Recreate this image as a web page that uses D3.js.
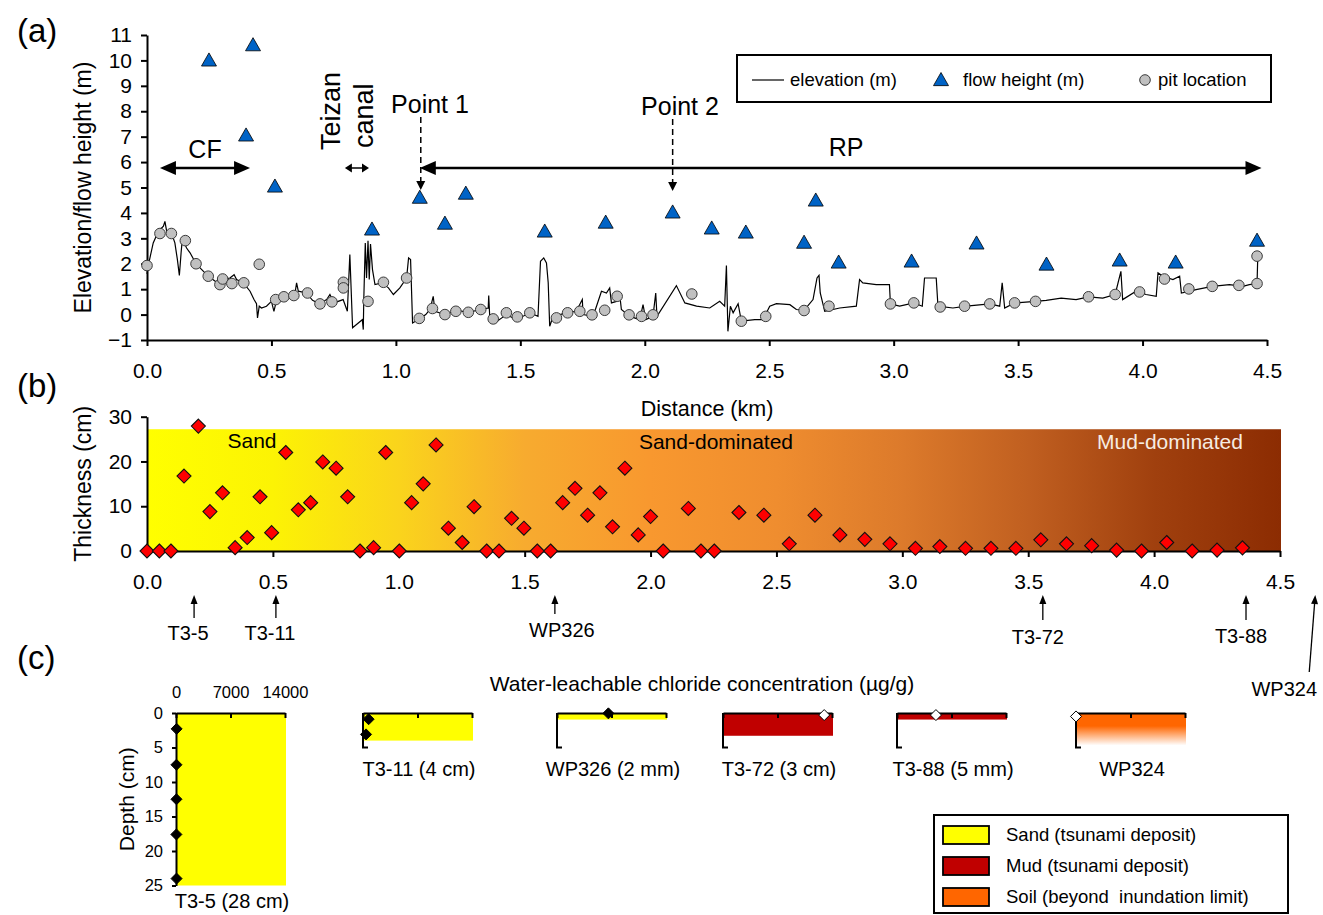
<!DOCTYPE html>
<html>
<head>
<meta charset="utf-8">
<script src="https://cdn.jsdelivr.net/npm/d3@7"></script>
<style>
  body { margin: 0; background: #fff; }
  svg text { font-family: "Liberation Sans", Arial, sans-serif; }
</style>
</head>
<body>
<div id="chart"></div>
<script>
/* ---- data ---- */

// (a) ground elevation along the transect [distance km, elevation m]
const elevation = [
  [0.0,1.6],[0.005,1.93],[0.025,2.82],[0.046,3.28],[0.066,3.48],[0.072,3.67],[0.079,3.28],[0.099,3.19],
  [0.112,2.82],[0.122,2.17],[0.130,1.54],[0.137,2.43],[0.142,2.98],[0.159,2.62],[0.173,2.43],[0.197,2.0],
  [0.22,1.77],[0.246,1.51],[0.28,1.27],[0.306,1.38],[0.333,1.44],[0.35,1.57],[0.36,1.38],[0.387,1.25],
  [0.414,0.92],[0.43,0.59],[0.44,0.43],[0.444,-0.13],[0.451,0.33],[0.46,0.26],[0.48,0.33],[0.5,0.52],
  [0.51,0.13],[0.521,0.59],[0.561,0.70],[0.594,0.80],[0.601,1.25],[0.608,0.92],[0.641,0.85],[0.665,0.56],
  [0.692,0.43],[0.722,0.59],[0.735,0.79],[0.751,0.46],[0.788,0.59],[0.805,0.13],[0.815,2.36],[0.826,-0.52],
  [0.865,-0.2],[0.869,-0.59],[0.871,0.59],[0.877,2.82],[0.882,1.44],[0.888,2.9],[0.893,1.38],[0.898,2.78],
  [0.906,1.77],[0.916,1.18],[0.943,1.25],[0.97,1.05],[0.99,0.79],[1.016,1.05],[1.043,1.44],[1.051,2.23],
  [1.059,2.17],[1.067,-0.33],[1.097,-0.15],[1.12,0.0],[1.137,0.2],[1.15,0.72],[1.157,0.13],[1.197,0.0],
  [1.244,0.17],[1.291,0.09],[1.341,0.2],[1.371,0.26],[1.373,0.75],[1.377,-0.07],[1.397,-0.33],[1.444,0.0],
  [1.484,-0.2],[1.538,0.07],[1.571,-0.07],[1.581,2.1],[1.594,2.23],[1.605,2.03],[1.612,1.25],[1.618,-0.46],
  [1.632,-0.07],[1.685,0.07],[1.725,0.13],[1.749,0.59],[1.752,0.0],[1.792,-0.07],[1.806,0.33],[1.826,0.92],
  [1.846,0.85],[1.859,1.05],[1.866,0.46],[1.886,0.52],[1.9,0.72],[1.906,0.2],[1.94,-0.07],[1.98,-0.2],
  [1.993,0.39],[2.004,-0.2],[2.033,-0.07],[2.044,0.85],[2.049,-0.07],[2.127,1.14],[2.161,0.46],[2.208,0.33],
  [2.261,0.26],[2.301,0.52],[2.321,0.33],[2.328,1.93],[2.334,-0.66],[2.344,0.33],[2.355,0.07],[2.375,0.43],
  [2.388,-0.26],[2.442,-0.2],[2.475,-0.2],[2.502,0.33],[2.529,0.43],[2.583,0.39],[2.609,0.2],[2.64,0.17],
  [2.676,0.59],[2.692,1.44],[2.7,1.54],[2.705,0.85],[2.723,0.13],[2.783,0.26],[2.85,0.33],[2.863,1.38],
  [2.876,1.25],[2.93,1.18],[2.983,1.18],[2.987,0.42],[3.024,0.33],[3.081,0.46],[3.115,0.33],[3.124,1.44],
  [3.171,1.44],[3.178,0.33],[3.238,0.26],[3.292,0.33],[3.386,0.42],[3.426,0.33],[3.436,1.25],[3.446,0.26],
  [3.486,0.46],[3.57,0.52],[3.613,0.56],[3.673,0.65],[3.733,0.59],[3.783,0.70],[3.84,0.65],[3.89,0.79],
  [3.913,1.7],[3.92,0.59],[3.974,0.92],[4.014,0.79],[4.055,0.72],[4.062,1.64],[4.082,1.51],[4.122,1.38],
  [4.149,1.51],[4.156,0.85],[4.215,0.98],[4.28,1.11],[4.349,1.18],[4.403,1.11],[4.429,1.18],[4.46,1.22],
  [4.463,2.3]
];

// (a) flow height
const flowDist   = [0.249,0.426,0.398,0.514,0.904,1.096,1.197,1.281,1.598,1.843,2.112,2.269,2.406,2.64,2.687,2.779,3.072,3.333,3.614,3.908,4.133,4.46];
const flowHeight = [10.0,10.6,7.05,5.04,3.35,4.6,3.58,4.76,3.27,3.62,4.02,3.39,3.23,2.83,4.49,2.05,2.09,2.80,1.97,2.13,2.05,2.91];

// (a) pit locations
const pitDist = [0.0,0.052,0.098,0.154,0.197,0.246,0.293,0.304,0.341,0.389,0.451,0.517,0.55,0.59,0.645,0.695,0.743,0.789,0.789,0.888,
  0.95,1.043,1.094,1.147,1.197,1.241,1.291,1.341,1.391,1.444,1.488,1.538,1.645,1.69,1.739,1.788,1.839,1.889,1.937,1.987,
  2.033,2.189,2.388,2.486,2.64,2.74,2.987,3.081,3.187,3.285,3.386,3.486,3.57,3.783,3.89,3.988,4.088,4.186,4.28,4.387,4.46,4.46];
const pitElev = [1.93,3.19,3.19,2.91,2.0,1.51,1.18,1.4,1.22,1.25,1.98,0.59,0.70,0.75,0.85,0.42,0.50,1.27,1.05,0.52,
  1.27,1.44,-0.15,0.24,0.0,0.13,0.09,0.20,-0.17,0.07,-0.09,0.07,-0.13,0.07,0.13,-0.01,0.17,0.72,-0.01,-0.07,
  -0.01,0.81,-0.26,-0.07,0.16,0.33,0.42,0.46,0.30,0.33,0.42,0.46,0.52,0.70,0.79,0.89,1.40,1.01,1.11,1.15,1.22,2.30];

// (b) deposit thickness
const thickDist = [0,0.049,0.095,0.147,0.204,0.25,0.3,0.35,0.398,0.449,0.495,0.551,0.601,0.65,0.698,0.751,0.797,0.846,0.9,0.948,
  1.002,1.051,1.097,1.148,1.197,1.252,1.299,1.349,1.398,1.448,1.497,1.55,1.603,1.651,1.7,1.75,1.799,1.849,1.898,1.951,
  2.0,2.05,2.15,2.2,2.253,2.351,2.45,2.551,2.653,2.752,2.851,2.951,3.052,3.149,3.251,3.352,3.451,3.55,3.652,3.752,
  3.851,3.95,4.05,4.151,4.25,4.351];
const thickCm = [0,0,0,16.75,27.9,8.8,13.0,0.75,3.0,12.1,4.1,22.0,9.2,10.8,19.9,18.5,12.1,0,0.75,22.0,
  0,10.8,15.0,23.7,5.1,1.9,9.9,0,0,7.3,5.1,0,0,10.8,14.0,8.0,13.0,5.4,18.5,3.6,
  7.7,0,9.5,0,0,8.6,8.0,1.6,8.0,3.6,2.6,1.6,0.6,1.0,0.6,0.6,0.6,2.5,1.6,1.2,
  0.2,0,1.9,0,0.2,0.7];
const depositTop = 27.2;   // upper edge of the shaded band (cm)

// sampling sites marked under (b)
const sites    = ["T3-5","T3-11","WP326","T3-72","T3-88","WP324"];
const siteDist = [0.187,0.512,1.62,3.558,4.365,4.64];

// (c) chloride profiles
const coreNames   = ["T3-5 (28 cm)","T3-11 (4 cm)","WP326 (2 mm)","T3-72 (3 cm)","T3-88 (5 mm)","WP324"];
const coreType    = ["sand","sand","sand","mud","mud","soil"];
const coreLayer   = [25, 4, 0.95, 3.3, 0.95, 4.7];          // shaded depth (cm)
const coreDepths  = [[2.3,7.5,12.5,17.6,24],[0.9,3.1],[0.05],[0.3],[0.3],[0.5]];
const coreChloride= [[80,60,60,50,70],[720,390],[6600],[13000],[5000],[0]];

const distTicks  = [0,0.5,1,1.5,2,2.5,3,3.5,4,4.5];
const elevTicks  = d3.range(-1, 12);
const thickTicks = [0,10,20,30];
const clTicks    = [0,7000,14000];
const depthTicks = [0,5,10,15,20,25];

const legendA = ["elevation (m)","flow height (m)","pit location"];
const legendC = ["Sand (tsunami deposit)","Mud (tsunami deposit)","Soil (beyond  inundation limit)"];

/* ---- styles ---- */
const col = {sand: "#ffff00", mud: "#c00000", soil: "#ff6600", tri: "#0063c6", pit: "#c0c0c0", red: "#ff0000"};
const gradStops = [[0,"#ffff00"],[0.111,"#fcf304"],[0.222,"#fad41c"],[0.333,"#f7ab2f"],[0.444,"#f8982f"],
  [0.556,"#ef8d2f"],[0.667,"#dc7a2b"],[0.778,"#c05f20"],[0.889,"#a0400e"],[1,"#8c2c02"]];

const svg = d3.select("#chart").append("svg")
    .attr("width", 1323).attr("height", 915);

const defs = svg.append("defs");
const g1 = defs.append("linearGradient").attr("id", "thickGrad").attr("x1", 0).attr("x2", 1).attr("y1", 0).attr("y2", 0);
g1.selectAll("stop").data(gradStops).join("stop")
    .attr("offset", d => d[0]).attr("stop-color", d => d[1]);
const g2 = defs.append("linearGradient").attr("id", "soilGrad").attr("x1", 0).attr("x2", 0).attr("y1", 0).attr("y2", 1);
g2.append("stop").attr("offset", 0).attr("stop-color", col.soil);
g2.append("stop").attr("offset", 0.4).attr("stop-color", col.soil);
g2.append("stop").attr("offset", 1).attr("stop-color", "#fff");

const diamond = r => `M0,${-r}L${r},0L0,${r}L${-r},0Z`;
const triangle = s => `M0,${-s}L${s},${s * 0.75}L${-s},${s * 0.75}Z`;

function styleAxis(g, fs, w) {
  g.attr("font-family", null).attr("font-size", null);
  g.select(".domain").attr("stroke", "#000").attr("stroke-width", w);
  g.selectAll(".tick line").attr("stroke", "#000").attr("stroke-width", w);
  g.selectAll(".tick text").attr("font-size", fs).attr("fill", "#000");
}

// horizontal arrow, head on the right and optionally on the left
function hArrow(x1, x2, y, len, half, w, both) {
  const g = svg.append("g");
  g.append("line").attr("x1", both ? x1 + len - 1 : x1).attr("x2", x2 - len + 1)
      .attr("y1", y).attr("y2", y).attr("stroke", "#000").attr("stroke-width", w);
  g.append("path").attr("d", `M${x2},${y}L${x2 - len},${y - half}L${x2 - len},${y + half}Z`);
  if (both) g.append("path").attr("d", `M${x1},${y}L${x1 + len},${y - half}L${x1 + len},${y + half}Z`);
}

// arrow from (x1,y1) to tip (x2,y2)
function arrow(x1, y1, x2, y2, len, half, w, dash) {
  const a = Math.atan2(y2 - y1, x2 - x1);
  const bx = x2 - len * Math.cos(a), by = y2 - len * Math.sin(a);
  const px = -Math.sin(a) * half, py = Math.cos(a) * half;
  svg.append("line").attr("x1", x1).attr("y1", y1).attr("x2", bx).attr("y2", by)
      .attr("stroke", "#000").attr("stroke-width", w).attr("stroke-dasharray", dash || null);
  svg.append("path").attr("d", `M${x2},${y2}L${bx + px},${by + py}L${bx - px},${by - py}Z`);
}

function label(x, y, txt, fs, anchor) {
  return svg.append("text").attr("x", x).attr("y", y).attr("dy", "0.35em")
      .attr("font-size", fs).attr("fill", "#000").attr("text-anchor", anchor || "middle").text(txt);
}

/* ================= panel (a) ================= */
const xA = d3.scaleLinear().domain([0, 4.5]).range([147, 1267]);
const yA = d3.scaleLinear().domain([-1, 11]).range([340, 35]);

svg.append("g").attr("transform", `translate(0,${yA(-1)})`)
    .call(d3.axisBottom(xA).tickValues(distTicks).tickFormat(d3.format(".1f")).tickSize(6).tickSizeOuter(0).tickPadding(17))
    .call(g => styleAxis(g, 21, 2));
svg.append("g").attr("transform", `translate(${xA(0)},0)`)
    .call(d3.axisLeft(yA).tickValues(elevTicks).tickSize(6).tickSizeOuter(0).tickPadding(9))
    .call(g => styleAxis(g, 21, 2));

svg.append("path").datum(elevation)
    .attr("fill", "none").attr("stroke", "#000").attr("stroke-width", 1.2)
    .attr("d", d3.line().x(d => xA(d[0])).y(d => yA(d[1])));

svg.append("g").selectAll("circle").data(pitDist).join("circle")
    .attr("cx", d => xA(d)).attr("cy", (d, i) => yA(pitElev[i])).attr("r", 5.3)
    .attr("fill", col.pit).attr("stroke", "#3a3a3a").attr("stroke-width", 1);

svg.append("g").selectAll("path").data(flowDist).join("path")
    .attr("transform", (d, i) => `translate(${xA(d)},${yA(flowHeight[i])})`)
    .attr("d", triangle(7.5)).attr("fill", col.tri).attr("stroke", "#000").attr("stroke-width", 0.8);

label(17, 30, "(a)", 33, "start");
svg.append("text").attr("transform", `translate(83,${(yA(-1) + yA(11)) / 2}) rotate(-90)`)
    .attr("text-anchor", "middle").attr("dy", "0.35em").attr("font-size", 23).text("Elevation/flow height (m)");
label((xA(0) + xA(4.5)) / 2, 408, "Distance (km)", 21.5);

// zone annotations
hArrow(xA(0.052), xA(0.414), 168, 16, 7, 2.5, true);
label(205, 149, "CF", 25);
hArrow(xA(0.795), xA(0.892), 168, 7, 4.5, 1.5, true);
svg.append("text").attr("transform", "translate(331,150) rotate(-90)").attr("dy", "0.35em")
    .attr("font-size", 27).text("Teizan");
svg.append("text").attr("transform", "translate(364,148) rotate(-90)").attr("dy", "0.35em")
    .attr("font-size", 27).text("canal");
hArrow(xA(1.096), xA(4.478), 168, 16, 7, 2.5, true);
label(846, 147, "RP", 25);
arrow(xA(1.1), 117, xA(1.1), 190, 9, 4.5, 1.5, "6,4");
label(430, 104, "Point 1", 25);
arrow(xA(2.112), 119, xA(2.112), 191, 9, 4.5, 1.5, "6,4");
label(680, 106, "Point 2", 25);

// legend (a)
svg.append("rect").attr("x", 737).attr("y", 55).attr("width", 534).attr("height", 47)
    .attr("fill", "#fff").attr("stroke", "#000").attr("stroke-width", 2);
svg.append("line").attr("x1", 752).attr("x2", 784).attr("y1", 80).attr("y2", 80).attr("stroke", "#000").attr("stroke-width", 1.2);
label(790, 80, legendA[0], 18.5, "start");
svg.append("path").attr("transform", "translate(941,80)").attr("d", triangle(7.5))
    .attr("fill", col.tri).attr("stroke", "#000").attr("stroke-width", 0.8);
label(963, 80, legendA[1], 18.5, "start");
svg.append("circle").attr("cx", 1145).attr("cy", 80).attr("r", 5.3)
    .attr("fill", col.pit).attr("stroke", "#3a3a3a");
label(1158, 80, legendA[2], 18.5, "start");

/* ================= panel (b) ================= */
const xB = d3.scaleLinear().domain([0, 4.5]).range([147, 1280]);
const yB = d3.scaleLinear().domain([0, 30]).range([551, 416.7]);

svg.append("rect").attr("x", xB(0)).attr("y", yB(depositTop))
    .attr("width", xB(4.5) - xB(0) + 1).attr("height", yB(0) - yB(depositTop))
    .attr("fill", "url(#thickGrad)");

svg.append("g").attr("transform", `translate(0,${yB(0)})`)
    .call(d3.axisBottom(xB).tickValues(distTicks).tickFormat(d3.format(".1f")).tickSize(6).tickSizeOuter(0).tickPadding(17))
    .call(g => styleAxis(g, 21, 2));
svg.append("g").attr("transform", `translate(${xB(0)},0)`)
    .call(d3.axisLeft(yB).tickValues(thickTicks).tickSize(6).tickSizeOuter(0).tickPadding(9))
    .call(g => styleAxis(g, 21, 2));

svg.append("g").selectAll("path").data(thickDist).join("path")
    .attr("transform", (d, i) => `translate(${xB(d)},${yB(thickCm[i])})`)
    .attr("d", diamond(7)).attr("fill", col.red).attr("stroke", "#111").attr("stroke-width", 1.1);

label(252, 441, "Sand", 21);
label(716, 442, "Sand-dominated", 21);
label(1170, 442, "Mud-dominated", 21).attr("fill", "#f6ece2");

label(17, 385, "(b)", 33, "start");
svg.append("text").attr("transform", `translate(83,${(yB(0) + yB(30)) / 2}) rotate(-90)`)
    .attr("text-anchor", "middle").attr("dy", "0.35em").attr("font-size", 23).text("Thickness (cm)");

// sample site markers
const siteTail = [618, 618, 614, 620, 620, 672];
const siteTailDx = [0, 0, 0, 0, 0, -6];
const siteLabelDx = [-6, -6, 7, -5, -5, -31];
const siteLabelY = [633, 633, 630, 637, 636, 689];
sites.forEach((s, i) => {
  const x = xB(siteDist[i]);
  arrow(x + siteTailDx[i], siteTail[i], x, 595, 9, 3.5, 1.3);
  label(x + siteLabelDx[i], siteLabelY[i], s, 20);
});

/* ================= panel (c) ================= */
label(17, 657, "(c)", 33, "start");
label(702, 684, "Water-leachable chloride concentration (\u00b5g/g)", 21);

const coreX = [176, 363, 557, 723, 897, 1076];
const coreW = 109;
const topY = 713;
const yC = d3.scaleLinear().domain([0, 25]).range([topY, topY + 172.5]);

coreNames.forEach((name, i) => {
  const x0 = coreX[i];
  const xC = d3.scaleLinear().domain([0, 14000]).range([x0, x0 + coreW]);
  const g = svg.append("g");
  g.append("rect").attr("x", x0).attr("y", topY)
      .attr("width", coreW + 1).attr("height", yC(coreLayer[i]) - topY)
      .attr("fill", coreType[i] === "soil" ? "url(#soilGrad)" : col[coreType[i]]);

  g.append("g").attr("transform", `translate(0,${topY})`)
      .call(d3.axisTop(xC).tickValues(clTicks).tickSizeInner(-5).tickSizeOuter(0).tickPadding(15)
        .tickFormat(i === 0 ? d3.format("d") : () => ""))
      .call(a => styleAxis(a, 16.5, 2));

  if (i === 0) {
    g.append("g").attr("transform", `translate(${x0},0)`)
        .call(d3.axisLeft(yC).tickValues(depthTicks).tickSize(4).tickSizeOuter(0).tickPadding(9))
        .call(a => styleAxis(a, 16.5, 2));
    label(x0 + 56, 901, name, 20);
  } else {
    g.append("path").attr("fill", "none").attr("stroke", "#000").attr("stroke-width", 2)
        .attr("d", `M${x0},${topY}V${yC(5)}H${x0 + 5}`);
    label(x0 + 56, 769, name, 20);
  }

  const filled = coreType[i] === "sand";
  g.selectAll(".pt").data(coreDepths[i]).join("path")
      .attr("transform", (d, j) => `translate(${xC(coreChloride[i][j])},${yC(d)})`)
      .attr("d", diamond(5.5))
      .attr("fill", filled ? "#000" : "#fff").attr("stroke", "#000").attr("stroke-width", 1);
});

svg.append("text").attr("transform", `translate(127,${(yC(0) + yC(25)) / 2}) rotate(-90)`)
    .attr("text-anchor", "middle").attr("dy", "0.35em").attr("font-size", 21).text("Depth (cm)");

// legend (c)
svg.append("rect").attr("x", 934).attr("y", 815).attr("width", 354).attr("height", 98)
    .attr("fill", "#fff").attr("stroke", "#000").attr("stroke-width", 2);
["sand", "mud", "soil"].forEach((t, i) => {
  const y = 835 + i * 31;
  svg.append("rect").attr("x", 943).attr("y", y - 9).attr("width", 46).attr("height", 18)
      .attr("fill", col[t]).attr("stroke", "#000").attr("stroke-width", 1.8);
  label(1006, y, legendC[i], 18.5, "start").style("white-space", "pre");
});
</script>
</body>
</html>
